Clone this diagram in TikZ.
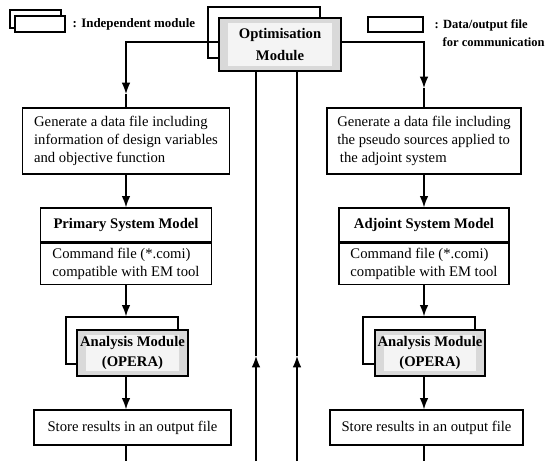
\documentclass[tikz,border=0pt]{standalone}
\usepackage{fontspec}
\setmainfont{Liberation Serif}
\usetikzlibrary{arrows.meta, positioning}

\begin{document}
\begin{tikzpicture}[x=0.75pt, y=-0.75pt, line width=1pt,
    font=\fontsize{11}{13.5}\selectfont,
    arr/.style={-{Latex[length=8.5pt,width=6.5pt]}},
    box/.style={draw, rectangle, fill=white, inner sep=0pt},
    module/.style={draw, rectangle, fill=gray!30, inner sep=0pt, align=center,
        font=\fontsize{11}{15}\selectfont\bfseries,
        path picture={\fill[gray!9] ([shift={(7pt,4pt)}]path picture bounding box.south west)
            rectangle ([shift={(-7pt,-4pt)}]path picture bounding box.north east);}},
    legend/.style={font=\fontsize{9.4}{13.5}\selectfont\bfseries, align=left, anchor=west, inner sep=0pt}]
\useasboundingbox (0,0) rectangle (546,461);

% Legend
\node[box, minimum width=38.25pt, minimum height=13.5pt] (indepb) at (35.5,19) {};
\node[box, minimum width=37.5pt, minimum height=12pt] (indepf) at (40,24) {};
\node[legend, font=\fontsize{9.7}{13.5}\selectfont\bfseries] (indeptxt) at (72,24) {: Independent module};
\node[box, minimum width=41.25pt, minimum height=11.25pt] (datafile) at (395.5,24.5) {};
\node[legend] (datatxt) at (434,33) {: Data/output file\\\hspace{6pt}for communication};

% Optimisation module
\node[box, minimum width=84pt, minimum height=38.25pt] (optb) at (264,32.5) {};
\node[module, minimum width=91.5pt, minimum height=39.75pt, font=\fontsize{11}{17}\selectfont\bfseries]
    (opt) at (280,44.5) {Optimisation\\Module};

% Primary side
\node[box, minimum width=155.25pt, minimum height=49.5pt, align=left]
    (gen1) at (126,141) {Generate a data file including\\information of design variables\\and objective function};
\node[box, minimum width=128.25pt, minimum height=25.5pt, font=\fontsize{11}{13.5}\selectfont\bfseries]
    (psm) at (126,225) {Primary System Model};
\node[box, minimum width=128.25pt, minimum height=30.75pt, align=left, below=0pt of psm]
    (psmcmd) {Command file (*.comi)\\compatible with EM tool};
\node[box, minimum width=84pt, minimum height=35.25pt] (am1b) at (122,340.5) {};
\node[module, minimum width=83.25pt, minimum height=34.5pt] (am1) at (132.5,353) {Analysis Module\\(OPERA)};
\node[box, minimum width=147.75pt, minimum height=26.25pt] (st1) at (132.5,427.5) {Store results in an output file};

% Adjoint side
\node[box, minimum width=145.5pt, minimum height=49.5pt, align=left]
    (gen2) at (424,141) {Generate a data file including\\the pseudo sources applied to\\\hspace{2pt}the adjoint system};
\node[box, minimum width=127.5pt, minimum height=25.5pt, font=\fontsize{11}{13.5}\selectfont\bfseries]
    (adj) at (424,225) {Adjoint System Model};
\node[box, minimum width=127.5pt, minimum height=30.75pt, align=left, below=0pt of adj]
    (adjcmd) {Command file (*.comi)\\compatible with EM tool};
\node[box, minimum width=84pt, minimum height=35.25pt] (am2b) at (419,340.5) {};
\node[module, minimum width=82.5pt, minimum height=34.5pt] (am2) at (430,353) {Analysis Module\\(OPERA)};
\node[box, minimum width=144.75pt, minimum height=26.25pt] (st2) at (426.5,427.5) {Store results in an output file};

% Flow on the primary side
\coordinate (lturn) at (126,42);
\coordinate (ltip) at (126,94);
\coordinate (lbot) at (126,461);
\draw[arr] (opt.west |- lturn) -- (lturn) -- (ltip);
\draw (ltip) -- (ltip |- gen1.north);
\draw[arr] (gen1.south) -- (psm.north);
\draw[arr] (psmcmd.south) -- (psmcmd.south |- am1b.north);
\draw[arr] (am1.south -| lbot) -- (st1.north -| lbot);
\draw (st1.south -| lbot) -- (lbot);

% Flow on the adjoint side
\coordinate (rturn) at (424,42);
\coordinate (rtip) at (424,88);
\coordinate (rbot) at (424,461);
\draw[arr] (opt.east |- rturn) -- (rturn) -- (rtip);
\draw (rtip) -- (rtip |- gen2.north);
\draw[arr] (gen2.south) -- (adj.north);
\draw[arr] (adjcmd.south) -- (adjcmd.south |- am2b.north);
\draw[arr] (am2.south -| rbot) -- (st2.north -| rbot);
\draw (st2.south -| rbot) -- (rbot);

% Return lines to the optimiser
\coordinate (cl) at (256,461);
\coordinate (cr) at (297,461);
\coordinate (cltip) at (256,356);
\coordinate (crtip) at (297,356);
\draw[arr] (cl) -- (cltip);
\draw (cltip) -- (opt.south -| cltip);
\draw[arr] (cr) -- (crtip);
\draw (crtip) -- (opt.south -| crtip);
\end{tikzpicture}
\end{document}
